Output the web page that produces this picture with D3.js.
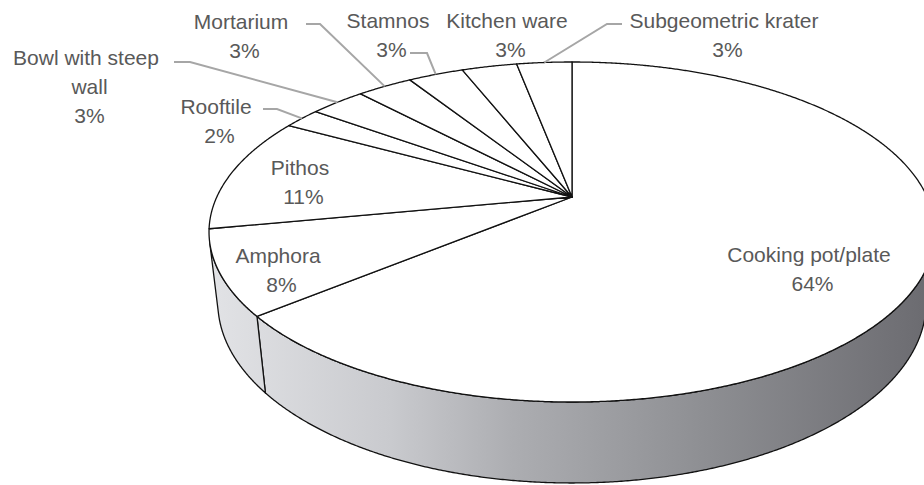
<!DOCTYPE html>
<html>
<head>
<meta charset="utf-8">
<script src="https://cdn.jsdelivr.net/npm/d3@7"></script>
<style>
  html, body { margin: 0; padding: 0; background: #ffffff; }
  svg { display: block; }
</style>
</head>
<body>
<svg id="chart" width="924" height="485"></svg>
<script>
// Pottery categories and their share of the assemblage (percent)
const categories = [
  "Cooking pot/plate",
  "Amphora",
  "Pithos",
  "Rooftile",
  "Bowl with steep wall",
  "Mortarium",
  "Stamnos",
  "Kitchen ware",
  "Subgeometric krater"
];
const shares = [64, 8, 11, 2, 3, 3, 3, 3, 3];

// Label placement (centre x, first baseline y), optional wrap width and leader elbow
const labelLayout = [
  { x: 809, y: 262 },
  { x: 278, y: 263 },
  { x: 300, y: 175 },
  { x: 216, y: 114, leader: [[263, 109], [277, 109]] },
  { x: 86,  y: 65, wrap: 150, leader: [[174, 62], [190, 62]] },
  { x: 241, y: 29, leader: [[306, 24], [320, 24]] },
  { x: 388, y: 28, leader: [[410, 53], [427, 53]] },
  { x: 507, y: 28 },
  { x: 724, y: 28, leader: [[622, 24], [607, 24]] }
];

// 3D pie geometry: disc of radius R and thickness H seen in perspective
const view = {
  cx: 572, cy: 197,      // screen position of the disc centre (top face)
  focal: 1533.7,         // focal length, camera distance = 1
  R: 0.2316,             // disc radius
  H: 0.0522,             // disc thickness
  elevation: 27.28 * Math.PI / 180
};
const sa = Math.sin(view.elevation), ca = Math.cos(view.elevation);

// Project a rim point at angle theta (clockwise from 12 o'clock) and height y
function project(theta, y) {
  const X = view.R * Math.sin(theta);
  const Z = -view.R * Math.cos(theta);
  const depth = 1 - y * sa - Z * ca;
  const camY = y * ca - Z * sa;
  return [view.cx + view.focal * X / depth, view.cy - view.focal * camY / depth];
}
function rim(a0, a1, y) {
  const n = Math.max(2, Math.ceil(Math.abs(a1 - a0) / 0.005));
  return d3.range(n + 1).map(i => project(a0 + (a1 - a0) * i / n, y));
}

const svg = d3.select("#chart");
const line = d3.line();

const defs = svg.append("defs");
const grad = defs.append("linearGradient")
  .attr("id", "sideShade")
  .attr("gradientUnits", "userSpaceOnUse")
  .attr("x1", 209).attr("x2", 935).attr("y1", 0).attr("y2", 0);
[[0, "rgb(226,227,230)"], [0.25, "rgb(201,202,206)"], [0.42, "rgb(172,173,177)"],
 [0.68, "rgb(142,143,147)"], [0.95, "rgb(112,112,117)"], [1, "rgb(106,106,111)"]]
  .forEach(([o, c]) => grad.append("stop").attr("offset", o).attr("stop-color", c));

const arcs = d3.pie().sort(null).value(d => d)(shares);

// Visible part of the outer wall
const wallStart = Math.acos(-view.R / ca);
const wallEnd = 2 * Math.PI - wallStart;

const gSide = svg.append("g");
arcs.forEach(a => {
  const s = Math.max(a.startAngle, wallStart);
  const e = Math.min(a.endAngle, wallEnd);
  if (e <= s) return;
  const pts = rim(s, e, 0).concat(rim(e, s, -view.H));
  gSide.append("path")
    .attr("d", line(pts) + "Z")
    .attr("fill", "url(#sideShade)")
    .attr("stroke", "#111")
    .attr("stroke-width", 1.3)
    .attr("stroke-linejoin", "round");
});

const gTop = svg.append("g");
arcs.forEach(a => {
  const pts = [[view.cx, view.cy]].concat(rim(a.startAngle, a.endAngle, 0));
  gTop.append("path")
    .attr("d", line(pts) + "Z")
    .attr("fill", "#ffffff")
    .attr("stroke", "#111")
    .attr("stroke-width", 1.3)
    .attr("stroke-linejoin", "round");
});

// Leader lines to the rim midpoint of small slices
const gLead = svg.append("g");
arcs.forEach((a, i) => {
  const L = labelLayout[i];
  if (!L.leader) return;
  const mid = project((a.startAngle + a.endAngle) / 2, 0);
  gLead.append("path")
    .attr("d", line(L.leader.concat([mid])))
    .attr("fill", "none")
    .attr("stroke", "#a6a6a6")
    .attr("stroke-width", 2);
});

// Data labels: category name and percentage
const gLab = svg.append("g")
  .attr("font-family", "'Liberation Sans', Arial, sans-serif")
  .attr("font-size", 21)
  .attr("fill", "#595959")
  .attr("text-anchor", "middle");

arcs.forEach((a, i) => {
  const L = labelLayout[i];
  const name = categories[i];
  let lines = [name];
  if (L.wrap) {
    const probe = gLab.append("text");
    lines = [];
    let cur = "";
    name.split(" ").forEach(w => {
      const trial = cur ? cur + " " + w : w;
      probe.text(trial);
      if (probe.node().getComputedTextLength() > L.wrap && cur) {
        lines.push(cur);
        cur = w;
      } else {
        cur = trial;
      }
    });
    lines.push(cur);
    probe.remove();
  }
  lines.push(shares[i] + "%");
  const t = gLab.append("text");
  lines.forEach((s, k) => {
    t.append("tspan")
      .attr("x", L.x + (k === 0 ? 0 : 3.5))
      .attr("y", L.y + k * 28.8)
      .text(s);
  });
});
</script>
</body>
</html>
